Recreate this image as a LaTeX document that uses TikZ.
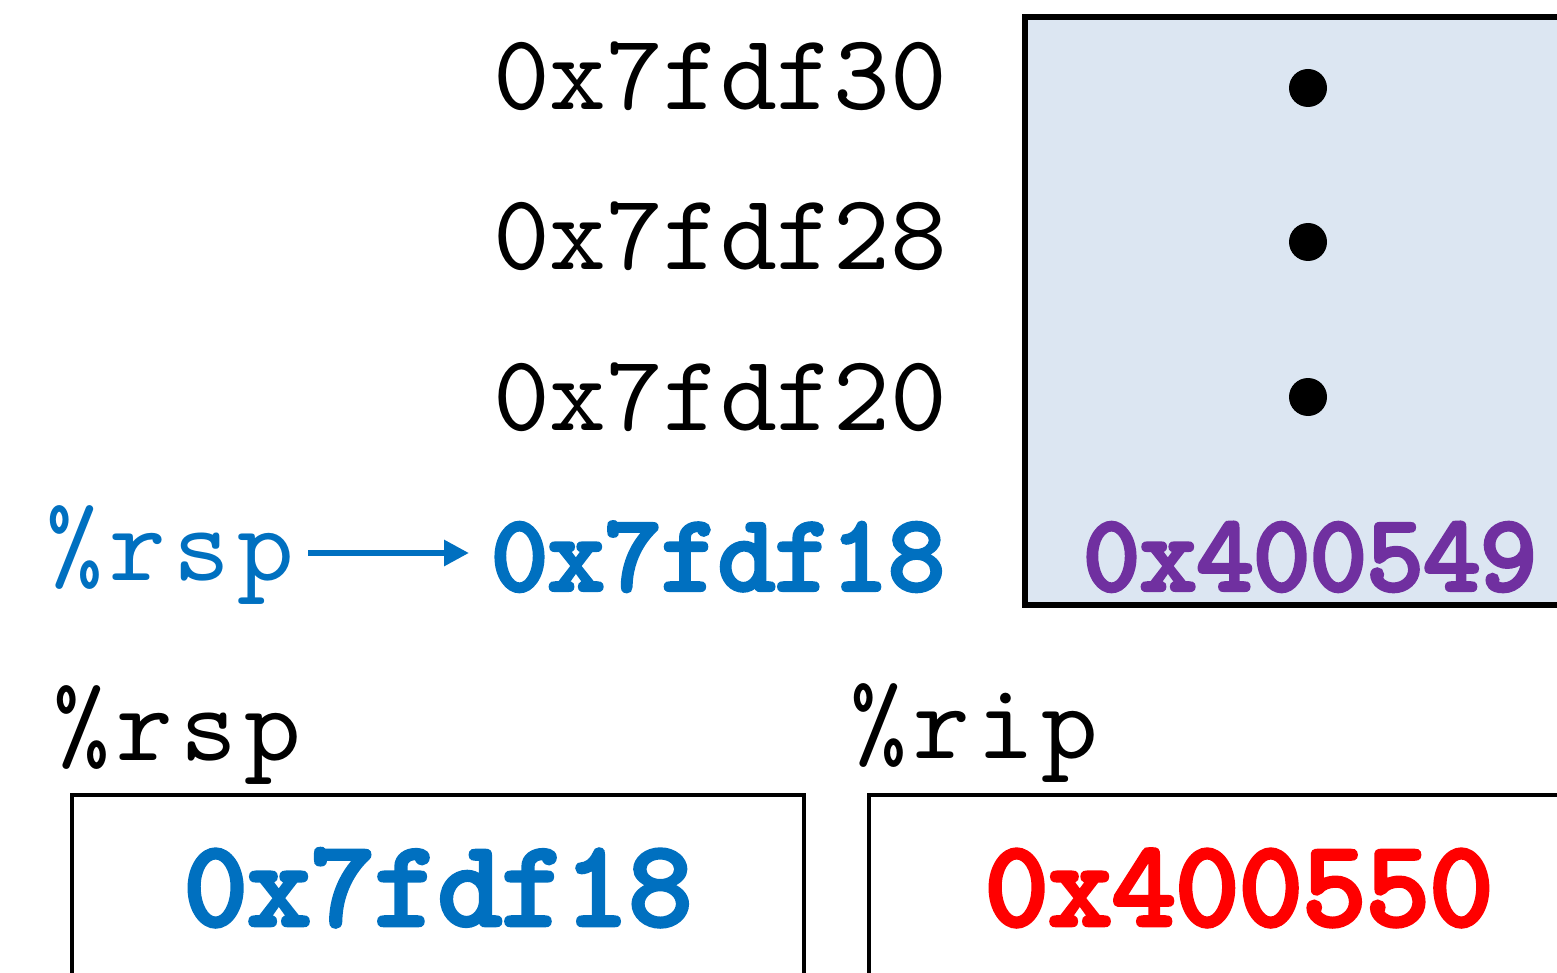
\documentclass[tikz,border=0pt]{standalone}
\usepackage{fontspec}
\newfontfamily\monoreg{lmmono10-regular}[Extension=.otf]
\newfontfamily\monowide{lmmono10-regular}[Extension=.otf, LetterSpace=6.5]
\newfontfamily\monobold{lmmono10-regular}[Extension=.otf, FakeBold=4]
\usetikzlibrary{arrows.meta,positioning}
\definecolor{regblue}{HTML}{0070C0}
\definecolor{stackfill}{HTML}{DCE6F2}
\definecolor{retpurple}{HTML}{7030A0}
\definecolor{ripred}{HTML}{FF0000}
\tikzset{
  mono/.style={inner sep=0pt, font=\monoreg\fontsize{108}{110}\selectfont},
  monob/.style={inner sep=0pt, font=\monobold\fontsize{108}{110}\selectfont},
  monobig/.style={inner sep=0pt, font=\monobold\fontsize{121}{124}\selectfont},
  regname/.style={inner sep=0pt, anchor=base west, font=\monowide\fontsize{108}{110}\selectfont},
  addr/.style={mono, anchor=base east},
}
\begin{document}
\begin{tikzpicture}[x=1pt,y=-1pt]
  \useasboundingbox (0,0) rectangle (1557,973);
  \clip (0,0) rectangle (1557,973);
  % stack addresses
  \foreach \val/\yb in {30/110,28/270,20/430}
    \node[addr] (a\val) at (947,\yb) {0x7fdf\val};
  \node[monob, anchor=base east, text=regblue] (a18) at (945,590) {0x7fdf18};
  \node[regname, text=regblue] (rsptag) at (46,580) {\%rsp};
  \coordinate (arry) at (0,553);
  \draw[regblue, line width=6, -{Triangle[length=25,width=25]}] (rsptag.east |- arry) ++(14,0) -- ([xshift=-22]a18.west |- arry);
  % stack frame
  \draw[line width=6, fill=stackfill] (1025,17) rectangle (1620,605);
  \foreach \yd in {88,242,397}
    \fill (1308,\yd) circle (19);
  \node[monob, anchor=base, text=retpurple] (ret) at (1310,590) {0x400549};
  % registers
  \node[regname] (rsplbl) at (53,760) {\%rsp};
  \node[regname] (riplbl) at (850,758) {\%rip};
  \draw[line width=4] (72,1010) -- (72,795) -- (804,795) -- (804,1010);
  \draw[line width=4] (869,1010) -- (869,795) -- (1620,795);
  \node[monobig, anchor=base, text=regblue] (rspval) at (438,925) {0x7fdf18};
  \node[monobig, anchor=base, text=ripred] (ripval) at (1239,925) {0x400550};
\end{tikzpicture}
\end{document}
